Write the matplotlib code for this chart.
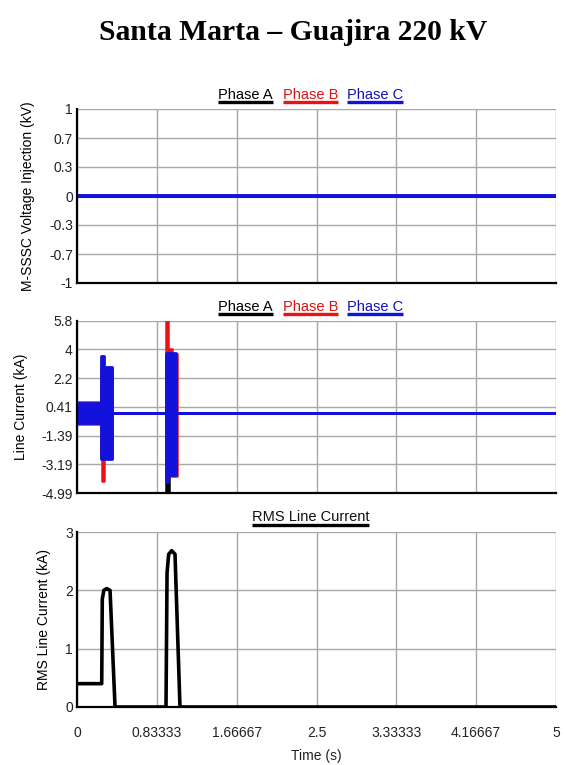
import matplotlib
matplotlib.use("Agg")
import matplotlib.pyplot as plt
import numpy as np
from matplotlib.lines import Line2D

plt.rcParams['font.family'] = ['Liberation Sans', 'DejaVu Sans']

# ---------------- data ----------------
title = "Santa Marta \u2013 Guajira 220 kV"
phase_names = ["Phase A", "Phase B", "Phase C"]
phase_colors = ["#000000", "#ee1111", "#1212dc"]
legend_text_colors = ["#000000", "#dd1111", "#1010c0"]

x_ticks_labels = ["0", "0.83333", "1.66667", "2.5", "3.33333", "4.16667", "5"]
volt_tick_labels = ["-1", "-0.7", "-0.3", "0", "0.3", "0.7", "1"]
curr_tick_labels = ["-4.99", "-3.19", "-1.39", "0.41", "2.2", "4", "5.8"]
rms_tick_labels = ["0", "1", "2", "3"]

# M-SSSC voltage injection (kV) - all phases flat at zero
t_volt = [0.0, 5.0]
volt_A = [0.0, 0.0]
volt_B = [0.0, 0.0]
volt_C = [0.0, 0.0]

# Line current envelopes (kA), step-wise breakpoints (time s)
tA = [0.0, 0.247, 0.362, 0.929, 0.957, 1.030, 5.0]
A_hi = [0.55, 2.70, 0.0, 3.50, 3.50, 0.0, 0.0]
A_lo = [-0.55, -2.75, 0.0, -5.30, -3.70, 0.0, 0.0]

tB = [0.0, 0.247, 0.257, 0.285, 0.362, 0.926, 0.953, 0.990, 1.043, 5.0]
B_hi = [0.72, 2.80, 2.80, 2.80, 0.0, 6.30, 4.00, 3.70, 0.0, 0.0]
B_lo = [-0.68, -2.80, -4.23, -2.80, 0.0, -3.95, -3.95, -3.95, 0.0, 0.0]

tC = [0.0, 0.247, 0.282, 0.362, 0.926, 0.953, 1.030, 5.0]
C_hi = [0.66, 3.60, 2.87, 0.0, 3.75, 3.75, 0.0, 0.0]
C_lo = [-0.60, -2.86, -2.86, 0.0, -4.27, -3.85, 0.0, 0.0]

# RMS line current (kA)
t_rms = [0.0, 0.258, 0.264, 0.280, 0.310, 0.345, 0.397, 0.929, 0.940, 0.957,
         0.988, 1.023, 1.075, 5.0]
rms = [0.40, 0.40, 1.85, 2.00, 2.03, 2.00, 0.0, 0.0, 2.30, 2.62,
       2.68, 2.62, 0.0, 0.0]

# ---------------- figure ----------------
W, H = 567, 765
fig = plt.figure(figsize=(W / 100, H / 100), dpi=100)

left = 77 / W
width = 479 / W
ax1 = fig.add_axes([left, 1 - 283 / H, width, 174 / H])
ax2 = fig.add_axes([left, 1 - 493 / H, width, 172.3 / H])
ax3 = fig.add_axes([left, 1 - 707 / H, width, 175 / H])

xt = np.linspace(0, 5, len(x_ticks_labels))
grid_color = "#a8a8a8"

for ax in (ax1, ax2, ax3):
    ax.set_xlim(0, 5)
    ax.set_xticks(xt)
    ax.grid(True, color=grid_color, lw=1.0)
    ax.set_axisbelow(True)
    for s in ("top", "right"):
        ax.spines[s].set_visible(False)
    for s in ("left", "bottom"):
        ax.spines[s].set_linewidth(1.6)
        ax.spines[s].set_color("black")
        ax.spines[s].set_zorder(20)
    ax.tick_params(length=0, labelsize=10, colors="#222222", pad=3)
    ax.tick_params(axis="x", pad=14)

# top panel
ax1.set_ylim(-1, 1)
ax1.set_yticks(np.linspace(-1, 1, len(volt_tick_labels)))
ax1.set_yticklabels(volt_tick_labels)
ax1.set_xticklabels([])
for v, c, lw in zip([volt_A, volt_B, volt_C], phase_colors, [2.2, 2.2, 2.8]):
    ax1.plot(t_volt, v, color=c, lw=lw, solid_capstyle="butt")
ax1.set_ylabel("M-SSSC Voltage Injection (kV)", fontsize=10, labelpad=10)

# middle panel
ax2.set_ylim(-4.99, 5.8)
ax2.set_yticks(np.linspace(-4.99, 5.8, len(curr_tick_labels)))
ax2.set_yticklabels(curr_tick_labels)
ax2.set_xticklabels([])
z = 3
for t, hi, lo, c, lw in [(tA, A_hi, A_lo, phase_colors[0], 1.8),
                         (tB, B_hi, B_lo, phase_colors[1], 1.8),
                         (tC, C_hi, C_lo, phase_colors[2], 2.0)]:
    ax2.fill_between(t, lo, hi, step="post", color=c, lw=0, zorder=z)
    ax2.step(t, hi, where="post", color=c, lw=lw, zorder=z + 1)
    ax2.step(t, lo, where="post", color=c, lw=lw, zorder=z + 1)
    z += 2
ax2.set_ylabel("Line Current (kA)", fontsize=10, labelpad=10)

# bottom panel
ax3.set_ylim(0, 3)
ax3.set_yticks([0, 1, 2, 3])
ax3.set_yticklabels(rms_tick_labels)
ax3.set_xticklabels(x_ticks_labels)
ax3.plot(t_rms, rms, color="black", lw=2.6, solid_joinstyle="round", zorder=6)
ax3.set_ylabel("RMS Line Current (kA)", fontsize=10, labelpad=10)
ax3.set_xlabel("Time (s)", fontsize=10, labelpad=6, color="#222222")

# title
fig.text(0.517, 1 - 32 / H, title, ha="center", va="center",
         fontsize=21.3, fontweight="bold", family=["Liberation Serif", "DejaVu Serif"])

# legends (text + underline)
texts = []
centers = [0.3523, 0.4875, 0.6221]
for ax in (ax1, ax2):
    hpx = ax.get_position().height * H
    for name, col, cx, lc in zip(phase_names, legend_text_colors, centers, phase_colors):
        t = ax.text(cx, 1 + 14 / hpx, name, transform=ax.transAxes, ha="center",
                    va="center", fontsize=10.5, color=col)
        texts.append((t, lc, ax))
hpx3 = ax3.get_position().height * H
t3 = ax3.text(0.4875, 1 + 15 / hpx3, "RMS Line Current", transform=ax3.transAxes,
              ha="center", va="center", fontsize=10.5, color="#111111")
texts.append((t3, "black", ax3))

fig.canvas.draw()
r = fig.canvas.get_renderer()
for t, lc, ax in texts:
    bb = t.get_window_extent(r)
    axtop = ax.get_position().y1 * H
    y = (axtop + 7) / H
    fig.add_artist(Line2D([bb.x0 / W, bb.x1 / W], [y, y], transform=fig.transFigure,
                          color=lc, lw=2.4, solid_capstyle="butt"))

fig.savefig("out.png", dpi=100)
